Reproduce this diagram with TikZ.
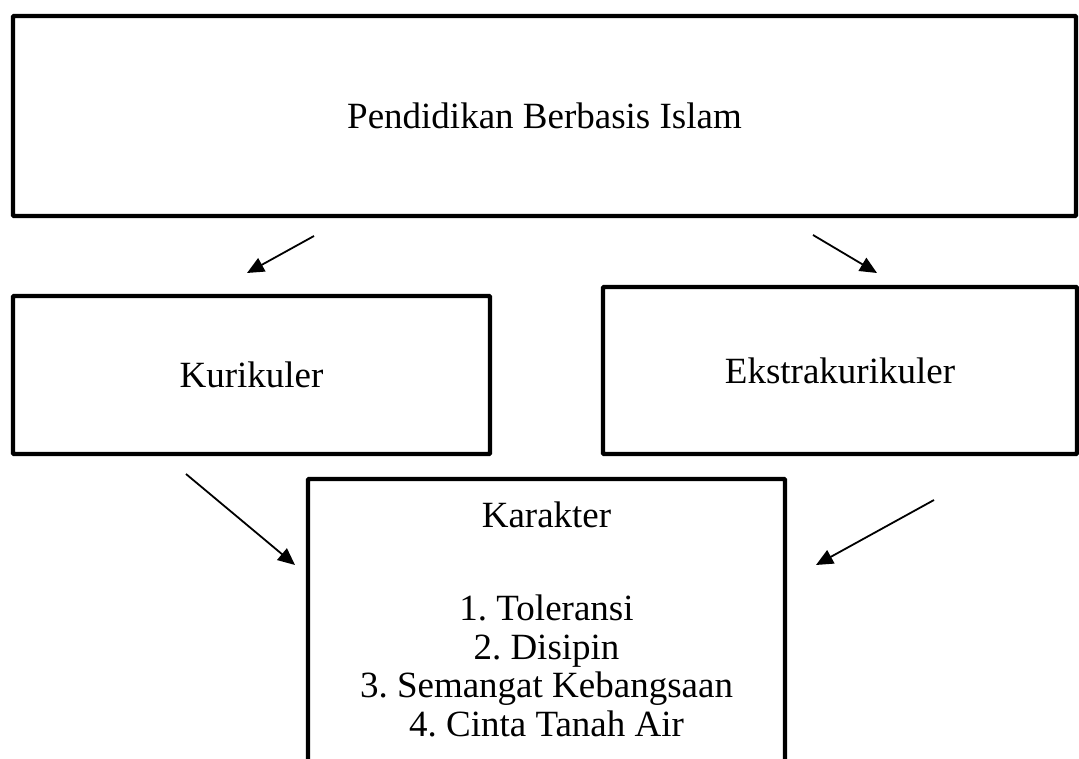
\documentclass[tikz,border=0pt]{standalone}
\usepackage{fontspec}
\setmainfont{Liberation Serif}
\usetikzlibrary{arrows.meta}
\frenchspacing
\begin{document}
\begin{tikzpicture}[x=1pt,y=1pt,
  box/.style={draw=black,line width=4.3pt,rounded corners=1pt,inner sep=0pt,outer sep=0pt,fill=white},
  lbl/.style={inner sep=0pt,anchor=base,font=\fontsize{37}{39}\selectfont},
  arr/.style={line width=1.8pt,-{Triangle[length=17pt,width=15pt]}}]
\useasboundingbox (0,0) rectangle (1079,758);
\clip (0,0) rectangle (1079,758);
% boxes
\node[box,minimum width=1063pt,minimum height=200pt,font=\fontsize{37}{39}\selectfont] (top) at (544.5,642) {Pendidikan Berbasis Islam};
\node[box,minimum width=477pt,minimum height=158pt,font=\fontsize{37}{39}\selectfont] (kur) at (251.5,383) {Kurikuler};
\node[box,minimum width=474pt,minimum height=167pt,font=\fontsize{37}{39}\selectfont] (eks) at (840,387.5) {Ekstrakurikuler};
\node[box,minimum width=477pt,minimum height=320pt] (kar) at (546.5,119) {};
% texts in Karakter box
\node[lbl] (kt) at (546.5,230) {Karakter};
\node[lbl] (l1) at (546.5,137) {1. Toleransi};
\node[lbl] (l2) at (546.5,98.5) {2. Disipin};
\node[lbl] (l3) at (546.5,60) {3. Semangat Kebangsaan};
\node[lbl] (l4) at (546.5,21.5) {4. Cinta Tanah Air};
% arrow ends
\coordinate (a1s) at (314,522);
\coordinate (a1e) at (247,485);
\coordinate (a2s) at (813,523);
\coordinate (a2e) at (877,485);
\coordinate (a3s) at (186,284);
\coordinate (a3e) at (295,193);
\coordinate (a4s) at (934,258);
\coordinate (a4e) at (816,193);
\draw[arr] (a1s) -- (a1e);
\draw[arr] (a2s) -- (a2e);
\draw[arr] (a3s) -- (a3e);
\draw[arr] (a4s) -- (a4e);
\end{tikzpicture}
\end{document}
